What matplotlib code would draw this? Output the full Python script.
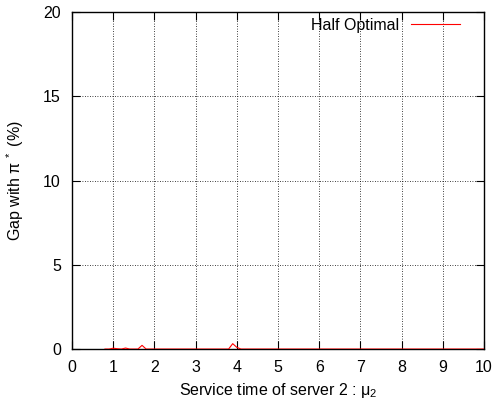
import matplotlib
matplotlib.use("Agg")
from matplotlib import pyplot as plt

plt.rcParams['font.family'] = ['Liberation Sans', 'DejaVu Sans']
plt.rcParams['mathtext.fontset'] = 'custom'
plt.rcParams['mathtext.rm'] = 'Liberation Sans'
plt.rcParams['mathtext.it'] = 'Liberation Sans'

# gap of the half optimal policy vs service time of server 2
mu2 = [0.8, 0.9, 1.0, 1.1, 1.2, 1.3, 1.4, 1.6, 1.7, 1.8, 3.8, 3.9, 4.0, 4.1, 10.0]
gap = [0.0, 0.0, 0.05, 0.02, 0.0, 0.06, 0.0, 0.0, 0.22, 0.0, 0.0, 0.32, 0.1, 0.0, 0.0]

xticks = list(range(0, 11))
yticks = [0, 5, 10, 15, 20]

fs = 11.5

fig = plt.figure(figsize=(4.94, 4.04), dpi=100)
ax = fig.add_axes([0.1457, 0.136, 0.8343, 0.834])

ax.plot(mu2, gap, color='red', lw=0.8, label='Half Optimal', zorder=3)

ax.set_xlim(0, 10)
ax.set_ylim(0, 20)
ax.set_xticks(xticks)
ax.set_yticks(yticks)
ax.tick_params(direction='in', length=6, width=0.8, top=True, right=True,
               labelsize=fs)
ax.tick_params(axis='x', pad=8)
ax.tick_params(axis='y', pad=8)
ax.grid(True, color='black', linestyle=(0, (1, 2)), lw=0.6)
for s in ax.spines.values():
    s.set_linewidth(1.0)

ax.set_xlabel('Service time of server 2 : μ$_2$', fontsize=fs, labelpad=4)
ax.set_ylabel('Gap with π$^{\\ *}$ (%)', fontsize=fs, labelpad=12)

ax.legend(loc='center right', bbox_to_anchor=(0.942, 0.961), frameon=False,
          markerfirst=False, fontsize=fs, handlelength=3.1,
          borderaxespad=0, handletextpad=0.7, borderpad=0)

fig.savefig('out.png', dpi=100)
